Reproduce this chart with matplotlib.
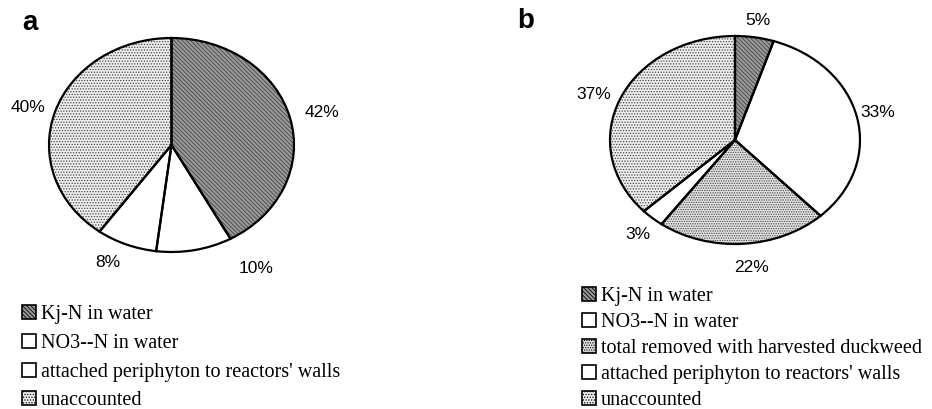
"""
Nitrogen mass balance pies (a: without duckweed, b: with duckweed).
Two elliptical pies with hatched wedges and serif legends underneath.
"""
import matplotlib.pyplot as plt
from matplotlib.patches import Patch

W, H = 932, 409

# panel a
labels_a = ["Kj-N in water", "NO3--N in water",
            "attached periphyton to reactors' walls", "unaccounted"]
values_a = [42, 10, 8, 40]
# panel b
labels_b = ["Kj-N in water", "NO3--N in water",
            "total removed with harvested duckweed",
            "attached periphyton to reactors' walls", "unaccounted"]
values_b = [5, 33, 22, 3, 37]

# fill style for each category
styles = {
    "Kj-N in water": dict(facecolor="#9a9a9a", hatch="\\\\\\\\\\\\\\\\"),
    "NO3--N in water": dict(facecolor="white", hatch=""),
    "attached periphyton to reactors' walls": dict(facecolor="white", hatch=""),
    "unaccounted": dict(facecolor="#eeeeee", hatch="......"),
    "total removed with harvested duckweed": dict(facecolor="#e2e2e2", hatch="......."),
}

# where the percentage labels sit (pie units, radius = 1)
pct_pos_a = [(1.23, 0.30), (0.69, -1.15), (-0.52, -1.10), (-1.17, 0.35)]
pct_pos_b = [(0.18, 1.15), (1.14, 0.26), (0.13, -1.23), (-0.78, -0.91), (-1.13, 0.44)]

plt.rcParams["hatch.linewidth"] = 0.6
plt.rcParams["hatch.color"] = "#444444"

fig = plt.figure(figsize=(W / 100, H / 100), dpi=100)


def px_axes(x0, y0, x1, y1):
    return fig.add_axes([x0 / W, 1 - y1 / H, (x1 - x0) / W, (y1 - y0) / H])


def draw_pie(ax, labels, values, pct_pos):
    # hatched fill first, then black outlines on top
    wedges, _ = ax.pie(values, startangle=90, counterclock=False,
                       wedgeprops=dict(linewidth=0, edgecolor="#444444"))
    for w, lab in zip(wedges, labels):
        st = styles[lab]
        w.set_facecolor(st["facecolor"])
        w.set_hatch(st["hatch"])
    ax.pie(values, startangle=90, counterclock=False,
           wedgeprops=dict(fill=False, linewidth=1.6, edgecolor="black"))
    for v, (x, y) in zip(values, pct_pos):
        ax.text(x, y, f"{v}%", ha="center", va="center", fontsize=12.5,
                family="Liberation Sans")
    ax.set_aspect("auto")
    ax.set_xlim(-1, 1)
    ax.set_ylim(-1, 1)
    ax.axis("off")


ax_a = px_axes(49, 38, 294, 252)
draw_pie(ax_a, labels_a, values_a, pct_pos_a)
ax_b = px_axes(610, 36, 860, 244)
draw_pie(ax_b, labels_b, values_b, pct_pos_b)

fig.text(30 / W, 1 - 23 / H, "a", fontsize=20, fontweight="bold",
         family="Liberation Sans", ha="center", va="center")
fig.text(526 / W, 1 - 21 / H, "b", fontsize=20, fontweight="bold",
         family="Liberation Sans", ha="center", va="center")


def make_legend(labels, x, y, spacing):
    handles = []
    for lab in labels:
        st = styles[lab]
        handles.append(Patch(facecolor=st["facecolor"], hatch=st["hatch"],
                             edgecolor="black", linewidth=1.2))
    fig.legend(handles=handles, labels=labels, loc="upper left",
               bbox_to_anchor=(x / W, 1 - y / H), frameon=False,
               handlelength=0.7, handleheight=0.7, handletextpad=0.25,
               borderpad=0, borderaxespad=0, labelspacing=spacing,
               prop=dict(family="Liberation Serif", size=14.5))


make_legend(labels_a, 22, 305, 0.48)
make_legend(labels_b, 582, 287, 0.34)

fig.savefig("out.png", dpi=100)
plt.close(fig)
